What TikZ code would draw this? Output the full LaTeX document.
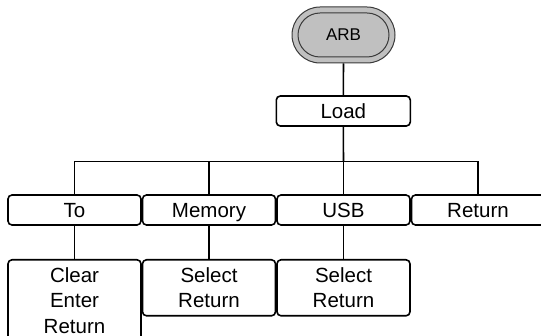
\documentclass[tikz,border=0pt]{standalone}
\usepackage{fontspec}
\setmainfont{Liberation Sans}
\definecolor{arbgray}{HTML}{C0C0C0}
\definecolor{arbline}{HTML}{3A3A3A}
\begin{document}
\begin{tikzpicture}[x=1pt,y=-1pt,
  box/.style={draw=black, line width=1.6pt, rounded corners=4pt, fill=white,
    minimum width=133pt, minimum height=30pt, inner sep=0pt, align=center,
    font=\fontsize{20.5}{25.5}\selectfont},
  onebox/.style={box, text height=16.5pt, text depth=2pt},
  tallbox/.style={box, minimum height=56pt, anchor=north},
  taller/.style={box, minimum height=81.5pt, anchor=north},
  conn/.style={line width=1.6pt, draw=black},
  arbout/.style={draw=arbline, line width=1pt, fill=arbgray, rounded corners=28pt,
    minimum width=103pt, minimum height=56pt, inner sep=0pt},
  arbin/.style={draw=arbline, line width=1pt, rounded corners=22pt,
    minimum width=91pt, minimum height=44pt, inner sep=0pt,
    font=\fontsize{17}{19}\selectfont}
]
\useasboundingbox (0,0) rectangle (541,336);
\clip (0,0) rectangle (541,336);
% top
\node[arbout] (arb) at (343.5,35) {};
\node[arbin] (arbi) at (343.5,35) {ARB};
\node[onebox, minimum width=134pt] (load) at (343.3,111) {Load};
% row 1
\node[onebox] (to) at (74.5,210) {To};
\node[onebox] (mem) at (209,210) {Memory};
\node[onebox] (usb) at (343.5,210) {USB};
\node[onebox] (ret) at (478,210) {Return};
% row 2
\node[taller] (clr) at (74.5,259) {Clear\\Enter\\Return};
\node[tallbox] (sel1) at (209,259) {Select\\Return};
\node[tallbox] (sel2) at (343.5,259) {Select\\Return};
% bus
\coordinate (bus) at (343.5,161.7);
% connectors
\draw[conn] (arb.south) -- (load.north);
\draw[conn] (load.south) -- (bus);
\draw[conn] (to.north) |- (bus) -| (ret.north);
\draw[conn] (mem.north) -- (mem.north |- bus);
\draw[conn] (bus) -- (usb.north);
\draw[conn] (to.south) -- (clr.north);
\draw[conn] (mem.south) -- (sel1.north);
\draw[conn] (usb.south) -- (sel2.north);
\end{tikzpicture}
\end{document}
